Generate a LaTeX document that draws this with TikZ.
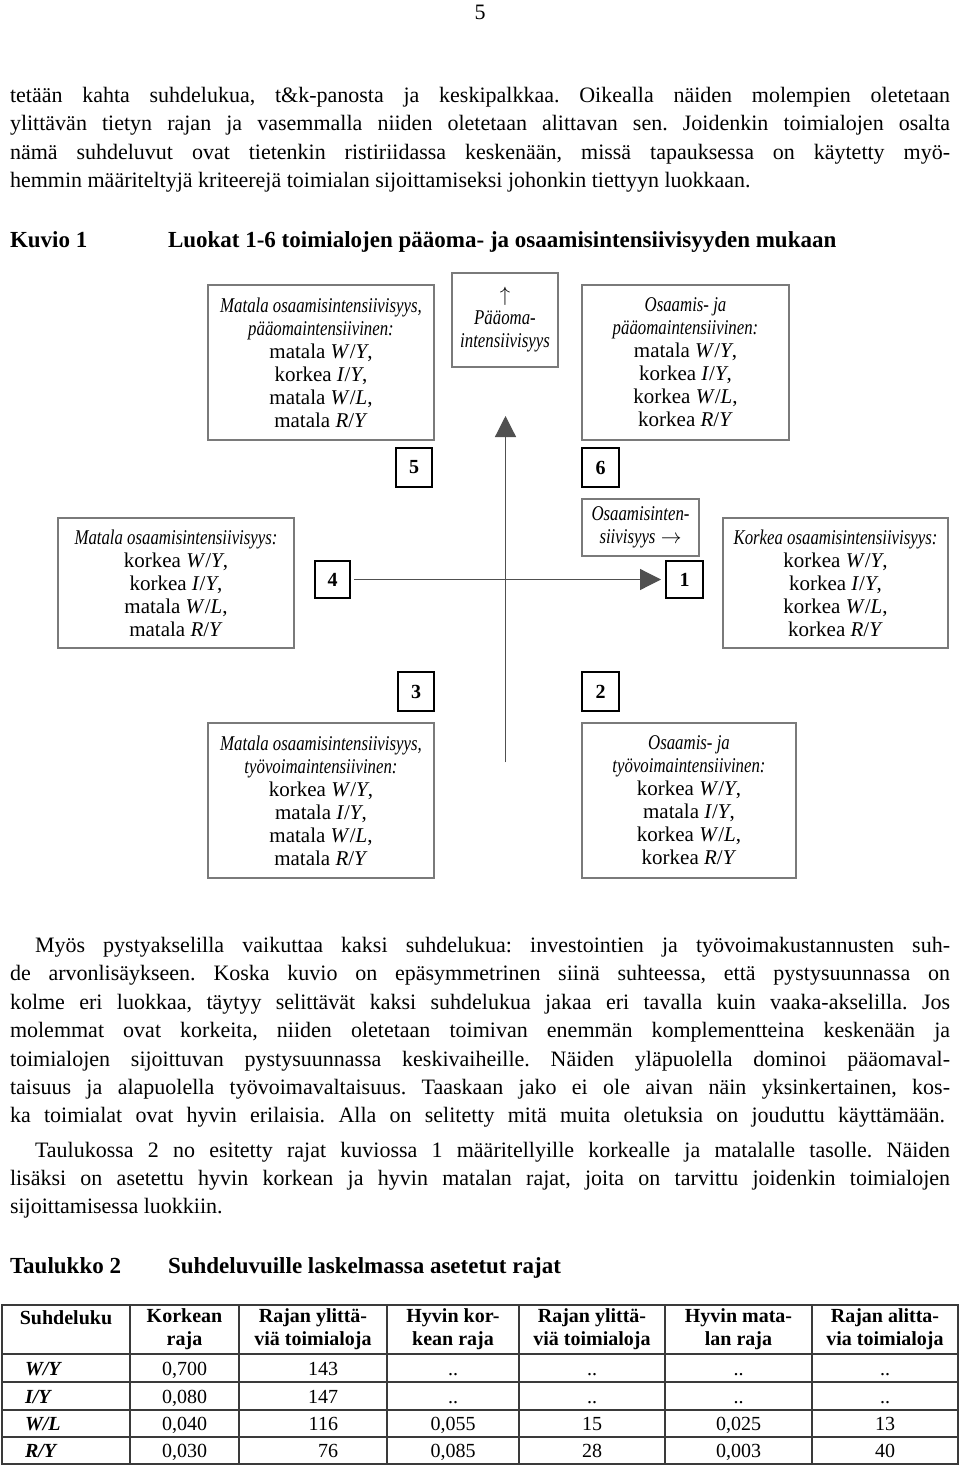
\documentclass[tikz,border=0pt]{standalone}
\usepackage{fontspec}
\setmainfont{Liberation Serif}
\newfontfamily\narrowserif[FakeStretch=0.8]{Liberation Serif}
\usetikzlibrary{arrows.meta}
\definecolor{boxgray}{HTML}{7A7A7A}
\definecolor{axisgray}{HTML}{505050}
\definecolor{tabgray}{HTML}{3A3A3A}
\newcommand\bodyfs{\fontsize{22}{28}\selectfont}
\newcommand\boxfs{\fontsize{21}{23}\selectfont}
\newcommand\nit[1]{{\narrowserif\itshape #1}}
\newcommand\rat[2]{\textit{#1}/\textit{#2}}
\newcommand\jline[2]{\makebox[#1][s]{#2}}
\frenchspacing
\begin{document}
\frenchspacing
\begin{tikzpicture}[x=1pt,y=-1pt,
  every node/.style={inner sep=0pt, outer sep=0pt},
  txt/.style={anchor=base west, font=\bodyfs\frenchspacing},
  gbox/.style={draw=boxgray, line width=1.1pt, align=center, font=\boxfs},
  numbox/.style={draw=black, line width=1.6pt, font=\fontsize{20}{22}\selectfont\bfseries},
  axisline/.style={draw=axisgray, line width=1.2pt},
  axtip/.style={-{Triangle[length=21pt,width=21pt]}},
  ttl/.style={anchor=base west, font=\fontsize{23}{26}\selectfont\bfseries},
  hdr/.style={align=center, font=\fontsize{20}{23}\selectfont\bfseries},
  cell/.style={anchor=base, font=\fontsize{20}{23}\selectfont},
  rcell/.style={anchor=base east, font=\fontsize{20}{23}\selectfont},
  rowlab/.style={anchor=base west, font=\fontsize{20}{23}\selectfont\bfseries\itshape},
  tline/.style={draw=tabgray, line width=1.3pt}]
\useasboundingbox (0,0) rectangle (960,1466);
\fill[white] (0,0) rectangle (960,1466);

% page number
\node[font=\fontsize{22}{24}\selectfont] (pgnum) at (480,12) {5};

% paragraph 1
\node[txt] (p1a) at (10,103) {\jline{940pt}{tetään kahta suhdelukua, t\&k-panosta ja keskipalkkaa. Oikealla näiden molempien oletetaan}};
\node[txt] (p1b) at (10,131) {\jline{940pt}{ylittävän tietyn rajan ja vasemmalla niiden oletetaan alittavan sen. Joidenkin toimialojen osalta}};
\node[txt] (p1c) at (10,160) {\jline{940pt}{nämä suhdeluvut ovat tietenkin ristiriidassa keskenään, missä tapauksessa on käytetty myö-}};
\node[txt] (p1d) at (10,188) {hemmin määriteltyjä kriteerejä toimialan sijoittamiseksi johonkin tiettyyn luokkaan.};

% figure title
\node[ttl] (kuvio) at (10,247) {Kuvio 1};
\node[ttl] (kuviot) at (168,247) {Luokat 1-6 toimialojen pääoma- ja osaamisintensiivisyyden mukaan};

% axes
\coordinate (vbot) at (505.5,762);
\coordinate (vtop) at (505.5,416);
\draw[axisline, axtip, fill=black] (vbot) -- (vtop);

% boxes
\node[gbox, minimum width=226pt, minimum height=155pt] (tl) at (321,362.5)
  {\nit{Matala osaamisintensiivisyys,}\\ \nit{pääomaintensiivinen:}\\ matala \rat{W}{Y},\\ korkea \rat{I}{Y},\\ matala \rat{W}{L},\\ matala \rat{R}{Y}};
\node[gbox, minimum width=106pt, minimum height=94pt] (pm) at (505,320)
  {$\uparrow$\\ \nit{Pääoma-}\\ \nit{intensiivisyys}};
\node[gbox, minimum width=207pt, minimum height=155pt] (tr) at (685.5,362.5)
  {\nit{Osaamis- ja}\\ \nit{pääomaintensiivinen:}\\ matala \rat{W}{Y},\\ korkea \rat{I}{Y},\\ korkea \rat{W}{L},\\ korkea \rat{R}{Y}};
\node[numbox, minimum width=36pt, minimum height=39pt] (n5) at (414,467.5) {5};
\node[numbox, minimum width=37pt, minimum height=39pt] (n6) at (600.5,467.5) {6};
\node[gbox, minimum width=236pt, minimum height=130pt] (ml) at (176,583)
  {\nit{Matala osaamisintensiivisyys:}\\ korkea \rat{W}{Y},\\ korkea \rat{I}{Y},\\ matala \rat{W}{L},\\ matala \rat{R}{Y}};
\node[numbox, minimum width=35pt, minimum height=37pt] (n4) at (332.5,579.5) {4};
\node[gbox, minimum width=117pt, minimum height=57pt] (om) at (640.5,527.5)
  {\nit{Osaamisinten-}\\ \nit{siivisyys} $\rightarrow$};
\node[numbox, minimum width=37pt, minimum height=37pt] (n1) at (684.5,579.5) {1};
\node[gbox, minimum width=225pt, minimum height=130pt] (mr) at (835.5,583)
  {\nit{Korkea osaamisintensiivisyys:}\\ korkea \rat{W}{Y},\\ korkea \rat{I}{Y},\\ korkea \rat{W}{L},\\ korkea \rat{R}{Y}};
\node[numbox, minimum width=36pt, minimum height=39pt] (n3) at (416,691.5) {3};
\node[numbox, minimum width=37pt, minimum height=39pt] (n2) at (600.5,691.5) {2};
\node[gbox, minimum width=226pt, minimum height=155pt] (bl) at (321,800.5)
  {\nit{Matala osaamisintensiivisyys,}\\ \nit{työvoimaintensiivinen:}\\ korkea \rat{W}{Y},\\ matala \rat{I}{Y},\\ matala \rat{W}{L},\\ matala \rat{R}{Y}};
\node[gbox, minimum width=214pt, minimum height=155pt] (br) at (689,800.5)
  {\nit{Osaamis- ja}\\ \nit{työvoimaintensiivinen:}\\ korkea \rat{W}{Y},\\ matala \rat{I}{Y},\\ korkea \rat{W}{L},\\ korkea \rat{R}{Y}};

\draw[axisline, axtip, fill=black] ([xshift=4pt]n4.east) -- ([xshift=-5pt]n1.west);

% paragraph 2
\node[txt] (p2a) at (35,952) {\jline{915pt}{Myös pystyakselilla vaikuttaa kaksi suhdelukua: investointien ja työvoimakustannusten suh-}};
\node[txt] (p2b) at (10,980) {\jline{940pt}{de arvonlisäykseen. Koska kuvio on epäsymmetrinen siinä suhteessa, että pystysuunnassa on}};
\node[txt] (p2c) at (10,1009) {\jline{940pt}{kolme eri luokkaa, täytyy selittävät kaksi suhdelukua jakaa eri tavalla kuin vaaka-akselilla. Jos}};
\node[txt] (p2d) at (10,1037) {\jline{940pt}{molemmat ovat korkeita, niiden oletetaan toimivan enemmän komplementteina keskenään ja}};
\node[txt] (p2e) at (10,1066) {\jline{940pt}{toimialojen sijoittuvan pystysuunnassa keskivaiheille. Näiden yläpuolella dominoi pääomaval-}};
\node[txt] (p2f) at (10,1094) {\jline{940pt}{taisuus ja alapuolella työvoimavaltaisuus. Taaskaan jako ei ole aivan näin yksinkertainen, kos-}};
\node[txt] (p2g) at (10,1122) {\jline{935pt}{ka toimialat ovat hyvin erilaisia. Alla on selitetty mitä muita oletuksia on jouduttu käyttämään.}};

% paragraph 3
\node[txt] (p3a) at (35,1157) {\jline{915pt}{Taulukossa 2 no esitetty rajat kuviossa 1 määritellyille korkealle ja matalalle tasolle. Näiden}};
\node[txt] (p3b) at (10,1185) {\jline{940pt}{lisäksi on asetettu hyvin korkean ja hyvin matalan rajat, joita on tarvittu joidenkin toimialojen}};
\node[txt] (p3c) at (10,1213) {sijoittamisessa luokkiin.};

% table title
\node[ttl] (taul) at (10,1273) {Taulukko 2};
\node[ttl] (tault) at (168,1273) {Suhdeluvuille laskelmassa asetetut rajat};

% table grid
\draw[tline] (2,1305) rectangle (958,1464);
\foreach \xx in {130,239,387,519,665,812} \draw[tline] (\xx,1305) -- (\xx,1464);
\foreach \yy in {1354,1382,1410,1437} \draw[tline] (2,\yy) -- (958,\yy);

% table header
\node[hdr] (h1) at (66,1318) {Suhdeluku};
\node[hdr] (h2) at (184.5,1329.5) {Korkean\\raja};
\node[hdr] (h3) at (313,1329.5) {Rajan ylittä-\\viä toimialoja};
\node[hdr] (h4) at (453,1329.5) {Hyvin kor-\\kean raja};
\node[hdr] (h5) at (592,1329.5) {Rajan ylittä-\\viä toimialoja};
\node[hdr] (h6) at (738.5,1329.5) {Hyvin mata-\\lan raja};
\node[hdr] (h7) at (885,1329.5) {Rajan alitta-\\via toimialoja};

% table rows
\node[rowlab] (r1l) at (25,1375) {W/Y};
\node[cell] (r1b) at (184.5,1375) {0,700};
\node[rcell] (r1c) at (338,1375) {143};
\node[cell] (r1d) at (453,1375) {..};
\node[cell] (r1e) at (592,1375) {..};
\node[cell] (r1f) at (738.5,1375) {..};
\node[cell] (r1g) at (885,1375) {..};

\node[rowlab] (r2l) at (25,1403) {I/Y};
\node[cell] (r2b) at (184.5,1403) {0,080};
\node[rcell] (r2c) at (338,1403) {147};
\node[cell] (r2d) at (453,1403) {..};
\node[cell] (r2e) at (592,1403) {..};
\node[cell] (r2f) at (738.5,1403) {..};
\node[cell] (r2g) at (885,1403) {..};

\node[rowlab] (r3l) at (25,1430.5) {W/L};
\node[cell] (r3b) at (184.5,1430.5) {0,040};
\node[rcell] (r3c) at (338,1430.5) {116};
\node[cell] (r3d) at (453,1430.5) {0,055};
\node[cell] (r3e) at (592,1430.5) {15};
\node[cell] (r3f) at (738.5,1430.5) {0,025};
\node[cell] (r3g) at (885,1430.5) {13};

\node[rowlab] (r4l) at (25,1457.5) {R/Y};
\node[cell] (r4b) at (184.5,1457.5) {0,030};
\node[rcell] (r4c) at (338,1457.5) {76};
\node[cell] (r4d) at (453,1457.5) {0,085};
\node[cell] (r4e) at (592,1457.5) {28};
\node[cell] (r4f) at (738.5,1457.5) {0,003};
\node[cell] (r4g) at (885,1457.5) {40};
\end{tikzpicture}
\end{document}
